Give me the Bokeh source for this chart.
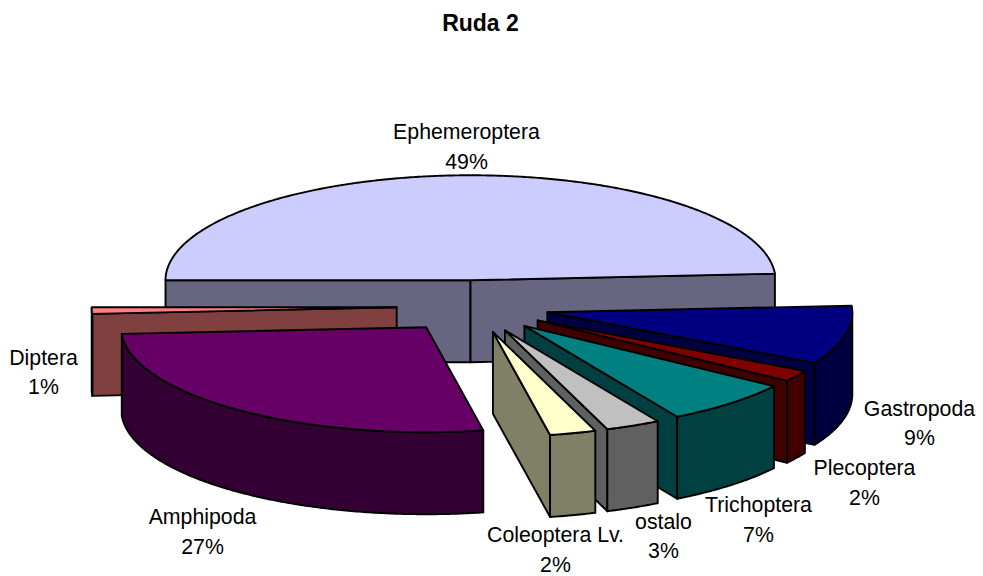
import math
from bokeh.embed import file_html
from bokeh.resources import INLINE
from bokeh.models import ColumnDataSource, Range1d
from bokeh.plotting import figure
from bokeh.core.properties import value

# ---- data (clockwise from the first slice) ----
categories = ["Ephemeroptera", "Gastropoda", "Plecoptera", "Trichoptera", "ostalo",
              "Coleoptera Lv.", "Amphipoda", "Diptera"]
shares = [49.0, 9.0, 1.75, 6.9, 2.9, 2.45, 27.0, 1.0]
top_colors = ["#CCCCFF", "#000080", "#800000", "#008080", "#C0C0C0", "#FFFFCC", "#660066", "#FF8080"]
side_colors = ["#666680", "#000040", "#400000", "#004040", "#606060", "#808066", "#330033", "#804040"]
title = "Ruda 2"

# ---- layout ----
W, H = 983, 576
OFF = 0
CX, CY, RX, RY, DEPTH, EXPLODE = 472.4, 306.0, 305.0, 105.0, 82.0, 0.25
FIRST_ANGLE = 270.0
DRAW_ORDER = [0, 7, 1, 2, 3, 6, 4, 5]
label_pos = {
    "Ephemeroptera": (466, 131, 161),
    "Gastropoda": (919, 408, 437),
    "Plecoptera": (864, 467, 497),
    "Trichoptera": (758, 504, 534),
    "ostalo": (663, 521, 550),
    "Coleoptera Lv.": (555, 534, 564),
    "Amphipoda": (202, 516, 546),
    "Diptera": (43, 357, 386),
}
FONT = "Liberation Sans"
FONT_SIZE = "21.3px"
TITLE_SIZE = "23px"


def pt(ox, oy, t):
    r = math.radians(t)
    return ox + RX * math.sin(r), oy - RY * math.cos(r)


xs, ys, fills = [], [], []


def add(poly, color):
    xs.append([q[0] for q in poly])
    ys.append([q[1] for q in poly])
    fills.append(color)


total = sum(shares)
spans = []
a = FIRST_ANGLE
for s in shares:
    b = a + s / total * 360.0
    spans.append((a, b))
    a = b

for i in DRAW_ORDER:
    t0, t1 = spans[i]
    mid = (t0 + t1) / 2
    r = math.radians(mid)
    ox = CX + EXPLODE * RX * math.sin(r)
    oy = CY - EXPLODE * RY * math.cos(r)
    steps = max(2, int((t1 - t0) * 2))
    angles = [t0 + (t1 - t0) * k / steps for k in range(steps + 1)]
    # cut faces towards the viewer
    for t, visible in ((t0, math.sin(math.radians(t0)) < -1e-9), (t1, math.sin(math.radians(t1)) > 1e-9)):
        if visible:
            e = pt(ox, oy, t)
            add([(ox, oy), e, (e[0], e[1] + DEPTH), (ox, oy + DEPTH)], side_colors[i])
    # outer wall (only the front half of the ellipse shows)
    front = [u for u in angles if 90 <= (u % 360) <= 270]
    if len(front) >= 2:
        upper = [pt(ox, oy, u) for u in front]
        lower = [(q[0], q[1] + DEPTH) for q in reversed(upper)]
        add(upper + lower, side_colors[i])
    # top surface
    add([(ox, oy)] + [pt(ox, oy, u) for u in angles], top_colors[i])

p = figure(width=W, height=H, output_backend="svg", toolbar_location=None,
           x_range=Range1d(OFF, OFF + W), y_range=Range1d(OFF + H, OFF),
           min_border=0, outline_line_color=None, background_fill_color="white",
           border_fill_color="white")
p.xaxis.visible = False
p.yaxis.visible = False
p.xgrid.visible = False
p.ygrid.visible = False

p.patches("xs", "ys", source=ColumnDataSource(dict(xs=xs, ys=ys, fill=fills)),
          fill_color="fill", line_color="black", line_width=1.9, line_join="round")

tx, ty, tt = [], [], []
for c, s in zip(categories, shares):
    x, y1, y2 = label_pos[c]
    tx += [x, x]
    ty += [y1, y2]
    tt += [c, f"{s:.0f}%"]
p.text(tx, ty, text=tt, text_font=value(FONT), text_font_size=value(FONT_SIZE),
       text_align="center", text_baseline="middle", text_color="black")
p.text([480], [22], text=[title], text_font=value(FONT), text_font_size=value(TITLE_SIZE),
       text_font_style="bold", text_align="center", text_baseline="middle", text_color="black")

open("out.html", "w").write(file_html(p, INLINE))
